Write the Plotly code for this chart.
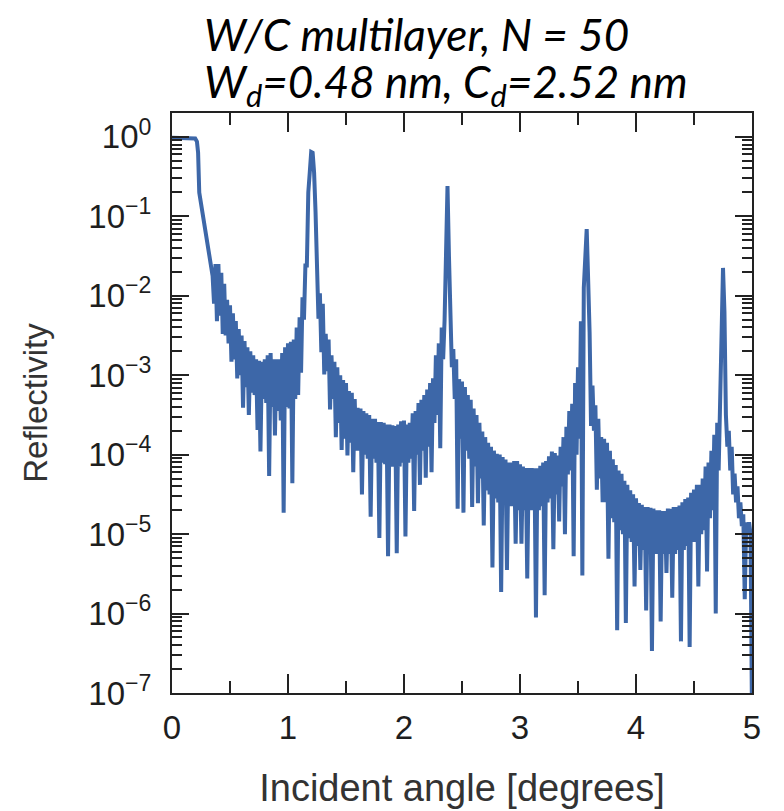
import plotly.graph_objects as go

# ---------------- data ----------------
# smooth start of the curve (angle in degrees, log10 reflectivity)
head_angle = [0.0, 0.05, 0.10, 0.15, 0.20, 0.215, 0.225, 0.235, 0.27, 0.30, 0.325]
head_log_r = [-0.01, -0.01, -0.012, -0.015, -0.02, -0.06, -0.2, -0.7, -1.02, -1.28, -1.47]

# fringe region: upper envelope samples every 0.025 deg starting at 0.35 deg
upper_start = 0.35
# fringe minima samples every 0.025 deg starting at 0.3625 deg
lower_start = 0.3625
fringe_step = 0.025

upper_v1 = [-1.75, -1.6, -1.6, -1.71, -1.85, -2.05, -2.12, -2.22, -2.32, -2.42,
            -2.5, -2.57, -2.65, -2.7, -2.75, -2.8, -2.82, -2.83, -2.8, -2.75,
            -2.72, -2.8, -2.8, -2.8, -2.72, -2.65, -2.6, -2.58, -2.55, -2.4,
            -2.27, -2.02, -1.62, -0.7, -0.19, -0.45, -1.5]
upper_v2 = [-1.97, -2.1, -2.48, -2.55, -2.75, -2.83, -2.9, -3.0, -3.06, -3.1,
            -3.2, -3.22, -3.3, -3.41, -3.42, -3.45, -3.48, -3.5, -3.55, -3.55,
            -3.59, -3.59, -3.6, -3.62, -3.62, -3.63, -3.64, -3.62, -3.58, -3.57,
            -3.62, -3.6, -3.48, -3.45, -3.35, -3.31, -3.25, -3.18, -3.1, -3.04,
            -2.75, -2.6, -2.4, -2.3, -0.62, -2.1]
upper_v3 = [-2.67, -2.8, -3.05, -3.08, -3.15, -3.25, -3.31, -3.42, -3.5, -3.6,
            -3.71, -3.78, -3.85, -3.9, -3.95, -3.99, -4.0, -4.03, -4.06, -4.1,
            -4.1, -4.08, -4.08, -4.12, -4.15, -4.17, -4.17, -4.17, -4.17, -4.17,
            -4.14, -4.1, -4.08, -4.02, -3.96, -3.98, -4.01, -3.9, -3.78, -3.65,
            -3.45, -3.36, -3.1, -2.9, -2.32, -1.9, -1.16, -2.46, -3.13]
upper_v4 = [-3.38, -3.55, -3.78, -3.8, -3.85, -3.95, -4.06, -4.13, -4.2, -4.24,
            -4.33, -4.38, -4.45, -4.5, -4.55, -4.61, -4.63, -4.66, -4.66, -4.67,
            -4.68, -4.7, -4.7, -4.71, -4.71, -4.68, -4.68, -4.66, -4.66, -4.64,
            -4.6, -4.56, -4.54, -4.48, -4.44, -4.38, -4.38, -4.3, -4.15, -4.1,
            -3.95, -3.75, -3.6, -3.4, -1.65, -3.5, -3.7, -3.9, -4.24, -4.4,
            -4.6, -4.75, -4.85, -4.85, -7.3]

lower_v1 = [-2.1, -2.32, -2.25, -2.48, -2.5, -2.6, -2.83, -2.8, -3.04, -3.0,
            -3.41, -3.15, -3.5, -3.22, -3.25, -3.69, -3.96, -3.3, -3.35, -4.27,
            -3.4, -3.76, -3.45, -3.57, -4.73, -3.4, -3.42, -4.36, -3.3, -3.25,
            -2.97, -2.3, -1.62, -0.45, -0.2, -0.95]
lower_v2 = [-2.29, -2.71, -2.99, -2.95, -3.43, -3.3, -3.78, -3.6, -3.94, -3.8,
            -4.01, -3.85, -4.22, -3.95, -3.95, -4.5, -4.0, -4.05, -4.78, -4.05,
            -4.1, -5.05, -4.1, -4.12, -5.28, -4.15, -4.15, -5.24, -4.15, -4.1,
            -5.03, -4.1, -4.05, -4.71, -4.0, -4.38, -3.95, -4.29, -3.9, -4.22,
            -3.6, -3.5, -3.92, -2.8, -1.4, -1.5]
lower_v3 = [-2.9, -3.3, -4.68, -3.8, -4.73, -3.95, -4.05, -4.66, -4.15, -4.61,
            -4.3, -4.89, -4.45, -4.5, -5.42, -4.55, -4.6, -5.73, -4.6, -5.45,
            -4.65, -4.65, -5.12, -4.7, -5.12, -4.7, -5.56, -4.7, -4.7, -6.05,
            -4.7, -4.65, -5.77, -4.6, -4.55, -5.19, -4.5, -4.84, -4.4, -5.0,
            -4.25, -4.2, -5.28, -4.0, -3.8, -5.52, -1.5, -1.8, -3.64]
lower_v4 = [-3.7, -4.44, -4.3, -4.6, -4.6, -5.31, -4.8, -4.85, -6.21, -4.95,
            -5.0, -6.12, -5.05, -5.1, -5.66, -5.15, -5.45, -5.2, -5.96, -5.2,
            -6.47, -5.25, -5.25, -6.1, -5.25, -5.49, -5.25, -5.8, -5.25, -5.2,
            -6.35, -5.2, -5.15, -6.42, -5.1, -5.1, -5.66, -5.0, -4.95, -5.47,
            -4.8, -4.7, -6.0, -4.2, -2.5, -2.2, -3.9, -4.2, -4.5, -4.6,
            -4.8, -4.9, -5.82, -5.0, -5.0]

upper_log_r = upper_v1 + upper_v2 + upper_v3 + upper_v4
lower_log_r = lower_v1 + lower_v2 + lower_v3 + lower_v4
assert len(upper_log_r) == 187, len(upper_log_r)
assert len(lower_log_r) == 186, len(lower_log_r)

# interleave maxima and minima in angle order
angle = list(head_angle)
log_r = list(head_log_r)
for i, up in enumerate(upper_log_r):
    angle.append(round(upper_start + fringe_step * i, 4))
    log_r.append(up)
    if i < len(lower_log_r):
        angle.append(round(lower_start + fringe_step * i, 4))
        log_r.append(lower_log_r[i])
reflectivity = [10 ** v for v in log_r]

x_tick_vals = [0, 1, 2, 3, 4, 5]
y_exponents = [0, -1, -2, -3, -4, -5, -6, -7]
y_tick_vals = [10 ** e for e in y_exponents]
y_tick_text = ["10<sup>%s</sup>" % (str(e).replace("-", "\u2212")) for e in y_exponents]
y_minor_vals = [m * 10 ** e for e in range(-7, 1) for m in range(2, 10)]

LINE_BLUE = "#3d67a8"
AXIS = "#222222"
SANS = "Liberation Sans, Arial, sans-serif"
TICKFONT = dict(family=SANS, size=33, color="#1e1e1e")
TITLEFONT = dict(family="Lato, sans-serif", size=44, color="#000000", style="italic")

fig = go.Figure()
fig.add_trace(go.Scatter(
    x=angle, y=reflectivity, mode="lines",
    line=dict(color=LINE_BLUE, width=4),
    showlegend=False, hoverinfo="skip",
))

fig.update_layout(
    width=784, height=811, autosize=False,
    margin=dict(l=164, r=40, t=105, b=126),
    paper_bgcolor="white", plot_bgcolor="white",
    xaxis=dict(
        range=[0, 5], tickmode="array", tickvals=x_tick_vals,
        ticks="inside", ticklen=19, tickwidth=2, tickcolor=AXIS,
        showline=True, linecolor=AXIS, linewidth=2, mirror="allticks",
        minor=dict(ticks="inside", ticklen=12, tickwidth=2, tickcolor=AXIS,
                   tickmode="linear", tick0=0, dtick=0.5, showgrid=False),
        showgrid=False, zeroline=False, tickfont=TICKFONT,
        ticklabelstandoff=4, automargin=False,
        title=dict(text="Incident angle [degrees]",
                   font=dict(family=SANS, size=38, color="#333333"),
                   standoff=30),
    ),
    yaxis=dict(
        type="log", range=[-7, 0.3], tickmode="array",
        tickvals=y_tick_vals, ticktext=y_tick_text,
        ticks="inside", ticklen=17, tickwidth=2, tickcolor=AXIS,
        showline=True, linecolor=AXIS, linewidth=2, mirror="allticks",
        minor=dict(ticks="inside", ticklen=10, tickwidth=2, tickcolor=AXIS,
                   tickmode="array", tickvals=y_minor_vals, showgrid=False),
        showgrid=False, zeroline=False, tickfont=TICKFONT,
        ticklabelstandoff=12, automargin=False,
        title=dict(text="Reflectivity",
                   font=dict(family=SANS, size=33, color="#333333"),
                   standoff=31),
    ),
    annotations=[
        dict(text="W/C multilayer, N = 50",
             xref="paper", yref="paper", x=0.0517, y=1.1362,
             xanchor="left", yanchor="middle", align="left", showarrow=False,
             font=TITLEFONT),
        dict(text="W<sub>d</sub>=0.48 nm, C<sub>d</sub>=2.52 nm",
             xref="paper", yref="paper", x=0.0517, y=1.0483,
             xanchor="left", yanchor="middle", align="left", showarrow=False,
             font=TITLEFONT),
    ],
)

fig.write_html("out.html")
